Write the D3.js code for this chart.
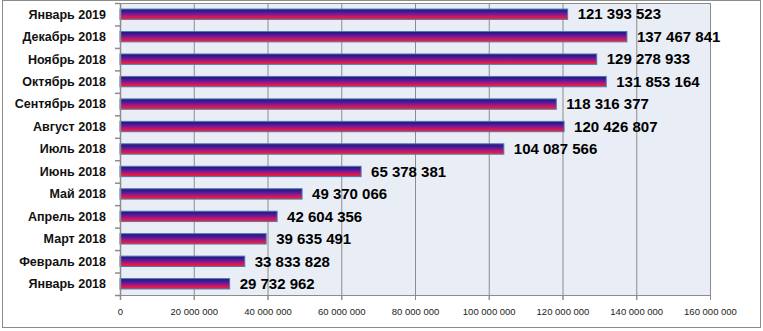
<!DOCTYPE html>
<html><head><meta charset="utf-8">
<script src="https://cdn.jsdelivr.net/npm/d3@7"></script>
<style>html,body{margin:0;padding:0;background:#fff;}svg{display:block;}</style>
</head><body>
<svg id="c" width="763" height="331"></svg>
<script>
const categories = ["Январь 2019","Декабрь 2018","Ноябрь 2018","Октябрь 2018","Сентябрь 2018","Август 2018","Июль 2018","Июнь 2018","Май 2018","Апрель 2018","Март 2018","Февраль 2018","Январь 2018"];
const values = [121393523,137467841,129278933,131853164,118316377,120426807,104087566,65378381,49370066,42604356,39635491,33833828,29732962];
const tickValues = [0,20000000,40000000,60000000,80000000,100000000,120000000,140000000,160000000];

const svg = d3.select("#c");
const L = 120, R = 710, T = 3, B = 295;
const fmt = v => d3.format(",")(v).replace(/,/g, " ");

svg.append("rect").attr("x",2.5).attr("y",0.5).attr("width",758).attr("height",327)
  .attr("fill","#fff").attr("stroke","#8c8c8c").attr("stroke-width",1);

const x = d3.scaleLinear().domain([0,160000000]).range([L,R]);
const y = d3.scaleBand().domain(categories).range([T,B]).paddingInner(0.54).paddingOuter(0.27);
const yb = d3.scaleBand().domain(categories).range([T,B]);

const defs = svg.append("defs");
const g = defs.append("linearGradient").attr("id","bg").attr("x1",0).attr("y1",0).attr("x2",0).attr("y2",1);
[["0%","#16167a"],["40%","#601a9c"],["72%","#c4186c"],["100%","#ff2418"]].forEach(([o,c])=>g.append("stop").attr("offset",o).attr("stop-color",c));

svg.append("rect").attr("x",L).attr("y",T).attr("width",R-L).attr("height",B-T).attr("fill","#e9edf5");

svg.append("g").selectAll("line").data(tickValues.slice(1)).join("line")
  .attr("x1",d=>x(d)+0.5).attr("x2",d=>x(d)+0.5).attr("y1",T).attr("y2",B+5)
  .attr("stroke","#8c8c8c").attr("stroke-width",1);
svg.append("line").attr("x1",L).attr("x2",R).attr("y1",T+0.5).attr("y2",T+0.5).attr("stroke","#8c8c8c");

const xa = svg.append("g").attr("transform",`translate(0,${B})`)
  .call(d3.axisBottom(x).tickValues(tickValues).tickSize(5).tickFormat(fmt));
xa.select(".domain").attr("stroke","#8c8c8c");
xa.selectAll(".tick line").attr("stroke","#8c8c8c");
xa.selectAll("text").attr("font-family","Liberation Sans, Arial, sans-serif").attr("font-size","9.5px").attr("fill","#222").attr("dy","1.3em");

svg.append("g").selectAll("rect").data(values).join("rect")
  .attr("x",x(0)).attr("y",(d,i)=>y(categories[i]))
  .attr("width",d=>x(d)-x(0)).attr("height",y.bandwidth())
  .attr("fill","url(#bg)").attr("stroke","#4a7ab4").attr("stroke-width",1);

const ya = svg.append("g").attr("transform",`translate(${L},0)`);
ya.append("line").attr("x1",0.5).attr("x2",0.5).attr("y1",T).attr("y2",B+5).attr("stroke","#8c8c8c").attr("stroke-width",1.5);
const bounds = categories.map(c=>yb(c)).concat([B]);
ya.selectAll("line.t").data(bounds).join("line").attr("class","t")
  .attr("x1",-5).attr("x2",0).attr("y1",d=>d+0.5).attr("y2",d=>d+0.5).attr("stroke","#8c8c8c").attr("stroke-width",1.5);
ya.selectAll("text").data(categories).join("text")
  .attr("x",-14).attr("y",d=>yb(d)+yb.bandwidth()/2).attr("dy","0.35em")
  .attr("text-anchor","end").attr("font-family","Liberation Sans, Arial, sans-serif")
  .attr("font-weight","bold").attr("font-size","12.5px").attr("fill","#111").text(d=>d);

svg.append("g").selectAll("text").data(values).join("text")
  .attr("x",d=>x(d)+10).attr("y",(d,i)=>y(categories[i])+y.bandwidth()/2).attr("dy","0.35em")
  .attr("font-family","Liberation Sans, Arial, sans-serif").attr("font-weight","bold")
  .attr("font-size","15px").attr("fill","#000").text(fmt);
</script>
</body></html>
